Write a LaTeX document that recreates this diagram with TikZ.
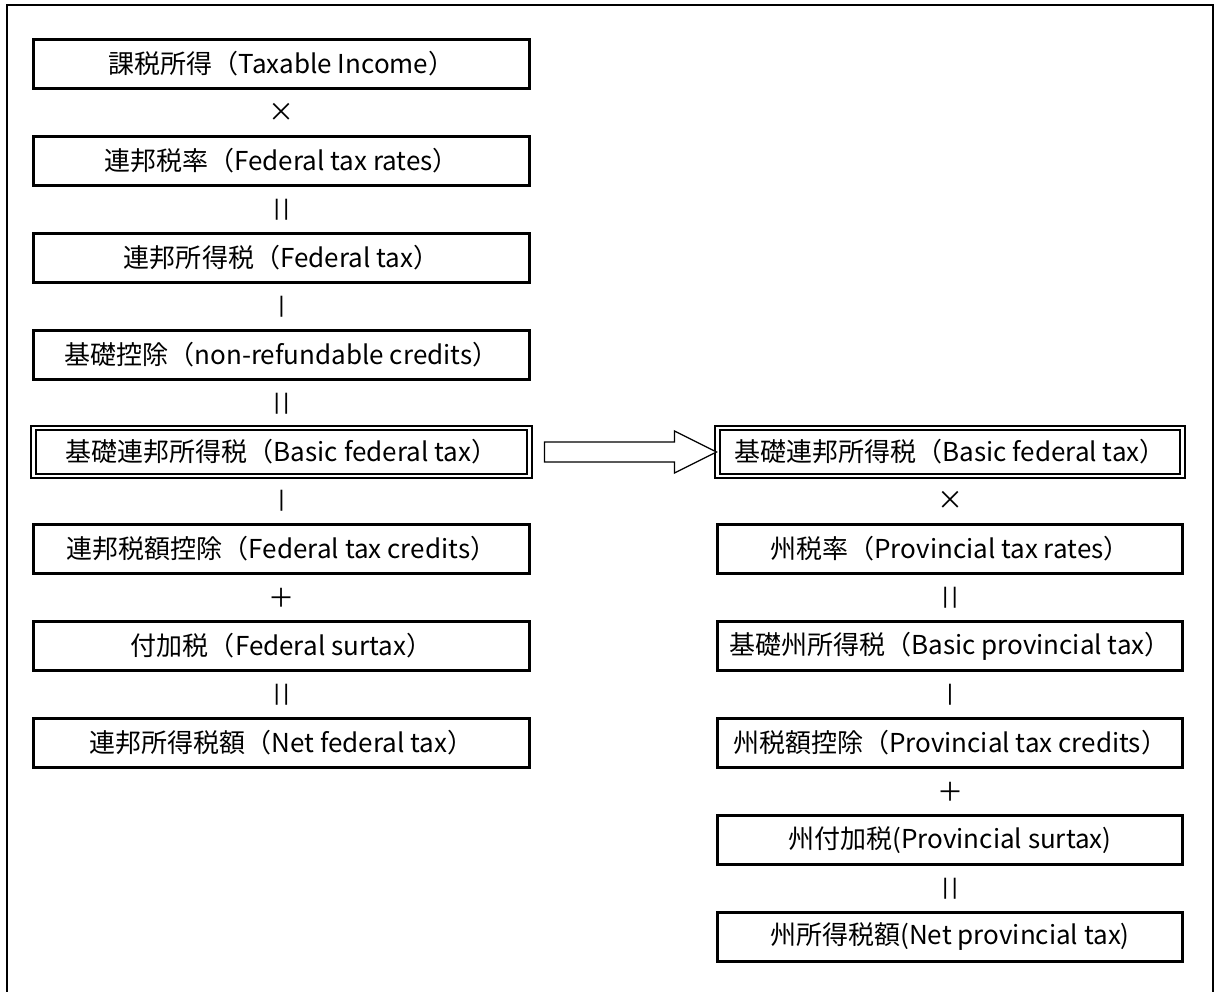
\documentclass[tikz,border=0pt]{standalone}
\usepackage{fontspec}
\setmainfont{Noto Sans CJK JP}
\newfontfamily\opfont{Liberation Sans}
\usetikzlibrary{calc, shadows}

\begin{document}
\begin{tikzpicture}[x=0.025cm, y=-0.025cm,
    taxbox/.style={draw, fill=white, line width=1.6pt, inner sep=0pt,
        minimum width=12.4cm, minimum height=1.23cm, font=\fontsize{18.5}{22}\selectfont,
        drop shadow={shadow xshift=1.3pt, shadow yshift=-1.3pt, opacity=1, fill=black}},
    provbox/.style={taxbox, minimum width=11.62cm},
    basicbox/.style={draw, double=white, double distance=2pt, line width=1.4pt,
        inner sep=0pt, minimum height=1.2cm, font=\fontsize{18.5}{22}\selectfont},
    op/.style={font=\fontsize{18.5}{22}\selectfont, inner sep=0pt},
    eqop/.style={font=\opfont\fontsize{16}{18}\selectfont, inner sep=0pt}]

    % page and outer frame
    \useasboundingbox (0,0) rectangle (1216,992);
    \draw[line width=1.8pt] (7,5) rectangle (1213,1010);

    % federal column
    \node[taxbox] (f1) at (281.5,64) {課税所得（Taxable Income）};
    \node[taxbox] (f2) at (281.5,161) {連邦税率（Federal tax rates）};
    \node[taxbox] (f3) at (281.5,258) {連邦所得税（Federal tax）};
    \node[taxbox] (f4) at (281.5,355) {基礎控除（non-refundable credits）};
    \node[basicbox, minimum width=12.4cm] (f5) at (281.5,452) {基礎連邦所得税（Basic federal tax）};
    \node[taxbox] (f6) at (281.5,549) {連邦税額控除（Federal tax credits）};
    \node[taxbox] (f7) at (281.5,646) {付加税（Federal surtax）};
    \node[taxbox] (f8) at (281.5,743) {連邦所得税額（Net federal tax）};

    \node[op] (fo1) at ($(f1)!0.5!(f2)$) {×};
    \node[eqop] (fo2) at ($(f2)!0.5!(f3)$) {|\kern2.5pt|};
    \node[eqop] (fo3) at ($(f3)!0.5!(f4)$) {|};
    \node[eqop] (fo4) at ($(f4)!0.5!(f5)$) {|\kern2.5pt|};
    \node[eqop] (fo5) at ($(f5)!0.5!(f6)$) {|};
    \node[op] (fo6) at ($(f6)!0.5!(f7)$) {＋};
    \node[eqop] (fo7) at ($(f7)!0.5!(f8)$) {|\kern2.5pt|};

    % provincial column
    \node[basicbox, minimum width=11.62cm] (p1) at (950,452) {基礎連邦所得税（Basic federal tax）};
    \node[provbox] (p2) at (950,549) {州税率（Provincial tax rates）};
    \node[provbox] (p3) at (950,646) {基礎州所得税（Basic provincial tax）};
    \node[provbox] (p4) at (950,743) {州税額控除（Provincial tax credits）};
    \node[provbox] (p5) at (950,840) {州付加税(Provincial surtax)};
    \node[provbox] (p6) at (950,937) {州所得税額(Net provincial tax)};

    \node[op] (po1) at ($(p1)!0.5!(p2)$) {×};
    \node[eqop] (po2) at ($(p2)!0.5!(p3)$) {|\kern2.5pt|};
    \node[eqop] (po3) at ($(p3)!0.5!(p4)$) {|};
    \node[op] (po4) at ($(p4)!0.5!(p5)$) {＋};
    \node[eqop] (po5) at ($(p5)!0.5!(p6)$) {|\kern2.5pt|};

    % block arrow between the two basic boxes
    \draw[line width=0.9pt, fill=white]
        ($(f5.east)+(14,-10)$) -- ($(p1.west)+(-42,-10)$) -- ($(p1.west)+(-42,-21)$)
        -- (p1.west) -- ($(p1.west)+(-42,21)$) -- ($(p1.west)+(-42,10)$)
        -- ($(f5.east)+(14,10)$) -- cycle;
\end{tikzpicture}
\end{document}
